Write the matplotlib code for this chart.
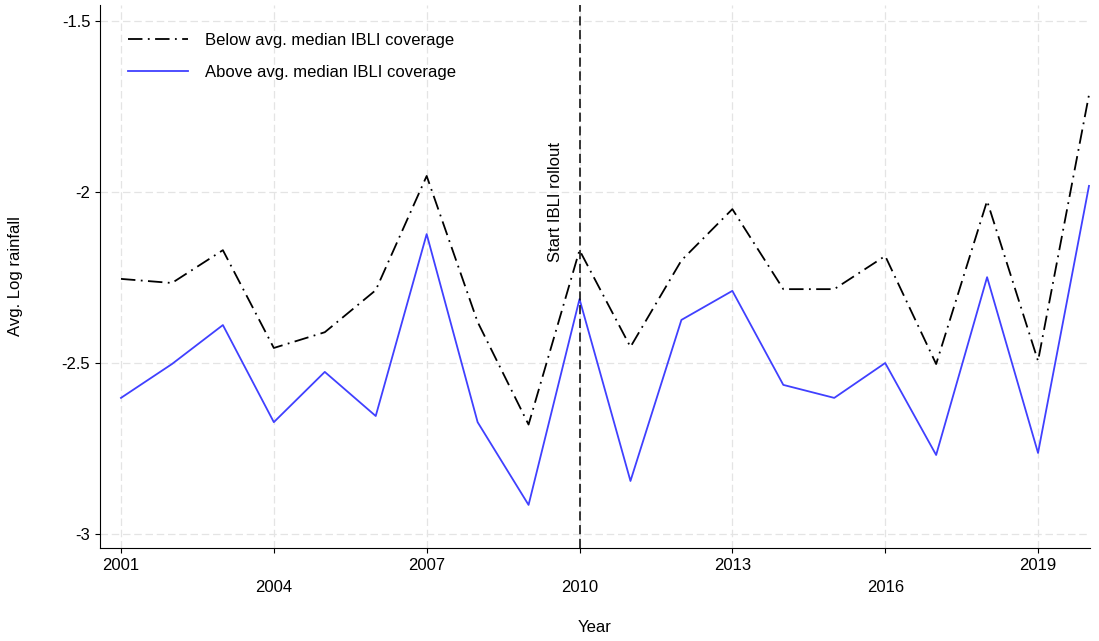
import matplotlib
matplotlib.use("Agg")
import matplotlib.pyplot as plt

years = list(range(2001, 2021))
below = [-2.254, -2.266, -2.17, -2.456, -2.41, -2.287, -1.953, -2.38, -2.68, -2.17,
         -2.453, -2.2, -2.05, -2.284, -2.284, -2.187, -2.503, -2.026, -2.494, -1.716]
above = [-2.602, -2.503, -2.389, -2.673, -2.526, -2.655, -2.123, -2.673, -2.915, -2.313,
         -2.845, -2.374, -2.289, -2.564, -2.602, -2.5, -2.769, -2.249, -2.763, -1.982]
xticks = [2001, 2004, 2007, 2010, 2013, 2016, 2019]
yticks = [-3, -2.5, -2, -1.5]
ylabels = ["-3", "-2.5", "-2", "-1.5"]

plt.rcParams['font.family'] = ['Liberation Sans', 'DejaVu Sans']
fig = plt.figure(figsize=(10.99, 6.41), dpi=100)
ax = fig.add_axes([100/1099, 1-548/641, 990/1099, 543/641])
ax.plot(years, below, color='black', lw=1.3, linestyle=(0, (8, 3, 1, 3)),
        label='Below avg. median IBLI coverage')
ax.plot(years, above, color='#4040ff', lw=1.3, label='Above avg. median IBLI coverage')
ax.axvline(2010, color='black', lw=1.1, linestyle=(0, (6, 3)))
ax.text(2009.53, -2.205, 'Start IBLI rollout', rotation=90, ha='center', va='bottom', fontsize=12)
ax.set_xlim(2000.588, 2020.02)
ax.set_ylim(-3.041, -1.453)
ax.set_xticks(xticks)
ax.set_xticklabels([str(t) if i % 2 == 0 else "\n" + str(t) for i, t in enumerate(xticks)],
                   fontsize=12, linespacing=1.6)
ax.set_yticks(yticks)
ax.set_yticklabels(ylabels, fontsize=12)
ax.grid(True, color='#e4e4e4', linestyle=(0, (6, 3)), lw=0.9)
ax.set_axisbelow(True)
for s in ['top', 'right']:
    ax.spines[s].set_visible(False)
ax.set_xlabel('Year', fontsize=12, labelpad=18)
ax.set_ylabel('Avg. Log rainfall', fontsize=12, labelpad=28)
ax.legend(loc='upper left', frameon=False, fontsize=12, handlelength=3.6, borderaxespad=1.3,
          labelspacing=1.0, handletextpad=1.0, bbox_to_anchor=(0.0, 1.0))
fig.savefig('out.png', dpi=100)
